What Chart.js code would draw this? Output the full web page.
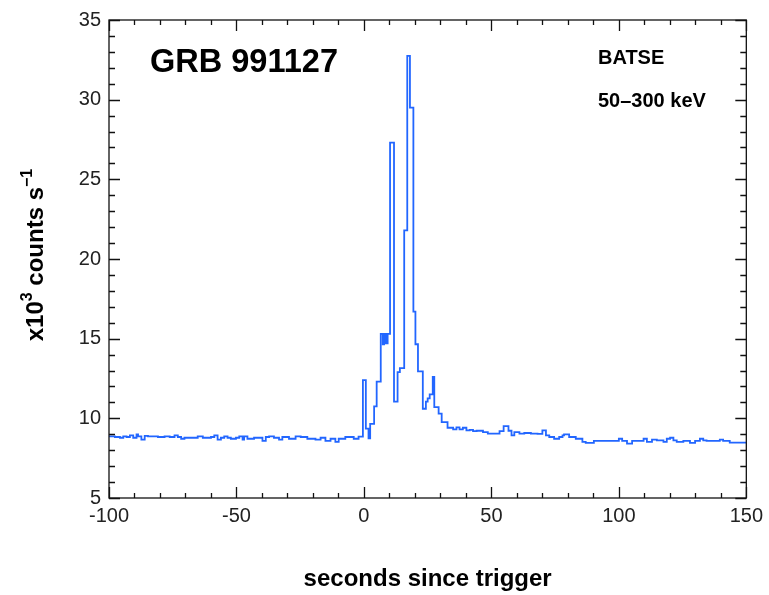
<!DOCTYPE html>
<html>
<head>
<meta charset="utf-8">
<script src="https://cdn.jsdelivr.net/npm/chart.js@4/dist/chart.umd.min.js"></script>
<style>
  html, body { margin: 0; padding: 0; background: #fff; }
  canvas { display: block; }
</style>
</head>
<body>
<canvas id="grbChart" width="769" height="595"></canvas>
<script>
// labels
var burstName = 'GRB 991127';
var instrument = 'BATSE';
var bandLabel = '50\u2013300 keV';
var xTitle = 'seconds since trigger';
// y title pieces: [text, superscript?]
var yTitleParts = [['x10', false], ['3', true], [' counts s', false], ['\u22121', true]];

// axis ranges
var xMin = -100, xMax = 150;
var yMin = 5, yMax = 35;

// background before the trigger (bin start in s, rate in 10^3 counts/s)
var preTimes = [-100, -97.7, -95.7, -94.4, -93.1, -91.8, -90.5, -89.2, -88.6, -87.3,
  -86.0, -84.7, -80.8, -78.2, -76.2, -74.3, -73.0, -71.7, -70.4, -65.2,
  -63.2, -60.0, -58.7, -57.4, -56.1, -54.8, -53.5, -52.2, -50.2, -48.9,
  -47.6, -47.0, -45.7, -43.1, -39.8, -38.5, -37.2, -35.3, -33.3, -32.0,
  -29.4, -26.8, -24.8, -22.2, -19.0, -17.0, -15.1, -13.1, -11.2, -9.9,
  -7.3, -4.0, -2.1];
var preRates = [8.87, 8.83, 8.78, 8.87, 8.83, 8.93, 8.78, 8.99, 8.87, 8.66,
  8.90, 8.87, 8.83, 8.87, 8.83, 8.93, 8.83, 8.72, 8.78, 8.87,
  8.78, 8.83, 8.93, 8.66, 8.78, 8.87, 8.78, 8.72, 8.78, 8.87,
  8.66, 8.87, 8.72, 8.78, 8.58, 8.83, 8.87, 8.78, 8.66, 8.83,
  8.72, 8.87, 8.83, 8.72, 8.66, 8.78, 8.58, 8.72, 8.52, 8.72,
  8.83, 8.72, 8.85];

// the burst itself
var burstTimes = [-0.4, 0.75, 1.8, 2.45, 4.0, 5.0, 6.6, 7.4, 7.9, 8.6,
  9.3, 10.25, 11.8, 13.2, 14.1, 15.8, 17.0, 18.05, 19.4, 20.2,
  21.2, 23.1, 24.3, 25.0, 25.8, 27.0, 27.6, 29.3, 30.5, 32.8];
var burstRates = [12.4, 9.35, 8.75, 9.65, 10.75, 12.3, 15.3, 14.65, 15.3, 14.7,
  15.3, 27.3, 11.05, 12.9, 13.15, 21.8, 32.75, 29.5, 16.7, 14.65,
  12.95, 10.6, 11.05, 11.25, 11.5, 12.6, 10.7, 10.3, 9.76, 9.41];

// tail and background after the burst
var postTimes = [35.0, 36.3, 37.5, 38.8, 40.2, 41.5, 42.8, 44.2, 46.7, 48.6,
  53.2, 54.8, 56.7, 57.9, 59.0, 61.0, 62.9, 65.5, 68.1, 70.0,
  71.4, 72.7, 74.6, 76.6, 77.9, 78.5, 80.5, 83.1, 85.7, 87.0,
  90.2, 100.0, 101.3, 103.2, 105.2, 109.7, 111.0, 113.0, 114.9, 117.5,
  118.8, 120.1, 121.4, 122.7, 125.3, 127.9, 129.9, 131.8, 133.1, 134.4,
  139.6, 140.9, 143.5, 150];
var postRates = [9.31, 9.43, 9.31, 9.41, 9.25, 9.28, 9.20, 9.22, 9.14, 9.04,
  9.20, 9.51, 9.22, 8.93, 9.14, 9.04, 9.08, 9.04, 9.03, 9.24,
  8.93, 8.83, 8.72, 8.83, 8.93, 8.99, 8.83, 8.72, 8.52, 8.46,
  8.58, 8.72, 8.58, 8.41, 8.58, 8.72, 8.52, 8.66, 8.62, 8.52,
  8.72, 8.78, 8.62, 8.52, 8.58, 8.46, 8.58, 8.72, 8.62, 8.58,
  8.66, 8.58, 8.48, 8.48];

var times = preTimes.concat(burstTimes, postTimes);
var rates = preRates.concat(burstRates, postRates);
var points = times.map(function (t, i) { return { x: t, y: rates[i] }; });

var fontFamily = '"Liberation Sans", Arial, Helvetica, sans-serif';

//box, inward ticks on all four sides and the text inside the plot
var frameTicks = {
  id: 'frameTicks',
  afterDatasetsDraw: function (chart) {
    var ctx = chart.ctx;
    var a = chart.chartArea;
    var xs = chart.scales.x, ys = chart.scales.y;
    ctx.save();
    ctx.strokeStyle = '#111';
    ctx.lineWidth = 1.3;
    ctx.strokeRect(a.left, a.top, a.right - a.left, a.bottom - a.top);

    ctx.beginPath();
    for (var t = xMin; t <= xMax; t += 10) {
      var px = Math.round(xs.getPixelForValue(t)) + 0.5;
      var len = (t % 50 === 0) ? 11 : 5;
      ctx.moveTo(px, a.bottom); ctx.lineTo(px, a.bottom - len);
      ctx.moveTo(px, a.top); ctx.lineTo(px, a.top + len);
    }
    for (var v = yMin; v <= yMax; v += 1) {
      var py = Math.round(ys.getPixelForValue(v)) + 0.5;
      var l = (v % 5 === 0) ? 11 : 6;
      ctx.moveTo(a.left, py); ctx.lineTo(a.left + l, py);
      ctx.moveTo(a.right, py); ctx.lineTo(a.right - l, py);
    }
    ctx.stroke();

    ctx.fillStyle = '#000';
    ctx.textBaseline = 'alphabetic';
    ctx.textAlign = 'left';
    ctx.font = 'bold 34px ' + fontFamily;
    ctx.fillText(burstName, 150, 72, 188);
    ctx.font = 'bold 20px ' + fontFamily;
    ctx.fillText(instrument, 598, 64, 70);
    ctx.fillText(bandLabel, 598, 107, 110);

    //y axis title with real superscripts, rotated
    var mainFont = 'bold 24px ' + fontFamily;
    var supFont = 'bold 16px ' + fontFamily;
    var total = 0;
    yTitleParts.forEach(function (p) {
      ctx.font = p[1] ? supFont : mainFont;
      total += ctx.measureText(p[0]).width;
    });
    var centerY = (a.top + a.bottom) / 2 - 4;
    ctx.translate(43, centerY + total / 2);
    ctx.rotate(-Math.PI / 2);
    var pos = 0;
    yTitleParts.forEach(function (p) {
      ctx.font = p[1] ? supFont : mainFont;
      ctx.fillText(p[0], pos, p[1] ? -11 : 0);
      pos += ctx.measureText(p[0]).width;
    });
    ctx.restore();
  }
};

var config = {
  type: 'line',
  data: {
    datasets: [{
      label: 'BATSE 50-300 keV',
      data: points,
      stepped: true,
      borderColor: '#2266ff',
      borderWidth: 1.8,
      pointRadius: 0,
      fill: false
    }]
  },
  options: {
    responsive: false,
    animation: false,
    devicePixelRatio: 1,
    layout: { padding: { left: 0, top: 17, right: 19, bottom: 0 } },
    plugins: {
      legend: { display: false },
      tooltip: { enabled: false }
    },
    scales: {
      x: {
        type: 'linear',
        min: xMin,
        max: xMax,
        afterFit: function (scale) { scale.height = 97; },
        grid: { display: false, drawTicks: false },
        border: { display: false },
        ticks: {
          stepSize: 50,
          padding: 6,
          color: '#222',
          font: { family: fontFamily, size: 20 }
        },
        title: {
          display: true,
          text: xTitle,
          color: '#000',
          padding: { top: 0, bottom: 1 },
          font: { family: fontFamily, size: 24, weight: 'bold' }
        }
      },
      y: {
        type: 'linear',
        min: yMin,
        max: yMax,
        afterFit: function (scale) { scale.width = 109; },
        grid: { display: false, drawTicks: false },
        border: { display: false },
        ticks: {
          stepSize: 5,
          padding: 8,
          color: '#222',
          font: { family: fontFamily, size: 20 }
        },
        title: { display: false }
      }
    }
  },
  plugins: [frameTicks]
};

var chart = new Chart(document.getElementById('grbChart'), config);
</script>
</body>
</html>
